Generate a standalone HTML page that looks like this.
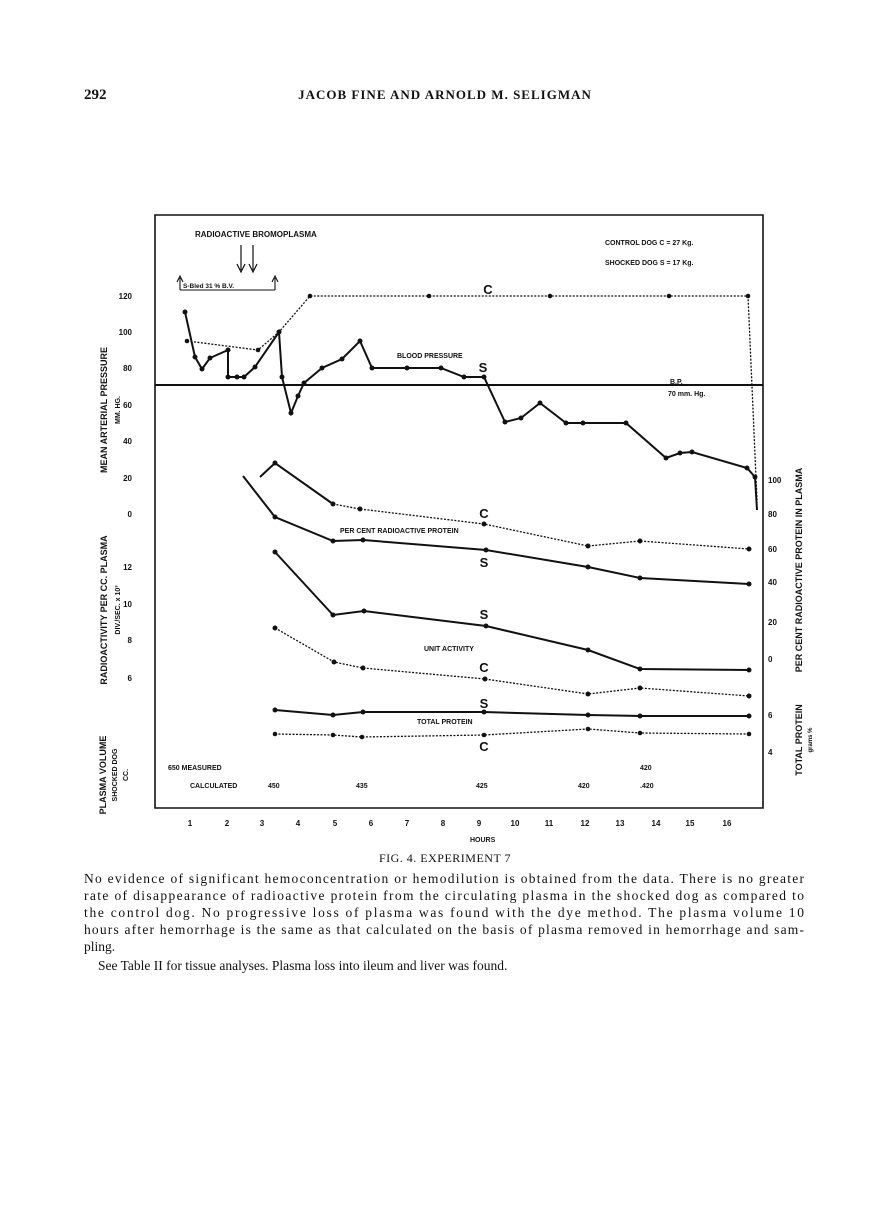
<!DOCTYPE html>
<html><head><meta charset="utf-8"><style>
body{margin:0;background:#fff;}
svg text{font-family:"Liberation Serif",serif;fill:#111;}
svg .s text{font-family:"Liberation Sans",sans-serif;font-weight:bold;}
</style></head><body>
<svg width="890" height="1200" viewBox="0 0 890 1200" xmlns="http://www.w3.org/2000/svg">
<rect width="890" height="1200" fill="#fff"/>
<text x="84" y="99" font-size="15" font-weight="bold">292</text>
<text x="445" y="99" font-size="13" font-weight="bold" text-anchor="middle" letter-spacing="1">JACOB FINE AND ARNOLD M. SELIGMAN</text>

<g stroke="#111" fill="none">
<path d="M155 215H763V808H155Z" stroke-width="1.6"/>
<path d="M155 385H763" stroke-width="2"/>
<polyline stroke-width="2" points="185,312 195,357 202,369 210,358 228,350 228,377 237,377 244,377 255,367 279,332 282,377 291,413 298,396 304,383 322,368 342,359 360,341 372,368 407,368 441,368 464,377 484,377 505,422 521,418 540,403 566,423 583,423 626,423 666,458 680,453 692,452 747,468 755,477 757,510"/>
<polyline stroke-width="1.3" stroke-dasharray="2,1.5" points="187,341 258,350 279,332 310,296 429,296 550,296 669,296 748,296 757,500"/>
<polyline stroke-width="2" points="260,477 275,463 333,504"/>
<polyline stroke-width="1.3" stroke-dasharray="2,1.5" points="333,504 360,509 484,524 588,546 640,541 749,549"/>
<polyline stroke-width="2" points="243,476 275,517 333,541 363,540 486,550 588,567 640,578 749,584"/>
<polyline stroke-width="2" points="275,552 333,615 364,611 486,626 588,650 640,669 749,670"/>
<polyline stroke-width="1.3" stroke-dasharray="2,1.5" points="275,628 334,662 363,668 485,679 588,694 640,688 749,696"/>
<polyline stroke-width="2" points="275,710 333,715 363,712 484,712 588,715 640,716 749,716"/>
<polyline stroke-width="1.3" stroke-dasharray="2,1.5" points="275,734 333,735 362,737 484,735 588,729 640,733 749,734"/>
<path d="M241 245V270M237 264L241 272L245 264M253 245V270M249 264L253 272L257 264" stroke-width="1.2"/>
<path d="M180 290H275M180 290V278M275 290V278M177 282L180 276L183 282M272 282L275 276L278 282" stroke-width="1.1"/>
</g>
<g fill="#111">
<circle cx="185" cy="312" r="2.5"/><circle cx="195" cy="357" r="2.5"/><circle cx="202" cy="369" r="2.5"/><circle cx="210" cy="358" r="2.5"/><circle cx="228" cy="350" r="2.5"/><circle cx="228" cy="377" r="2.5"/><circle cx="237" cy="377" r="2.5"/><circle cx="244" cy="377" r="2.5"/><circle cx="255" cy="367" r="2.5"/><circle cx="279" cy="332" r="2.5"/><circle cx="282" cy="377" r="2.5"/><circle cx="291" cy="413" r="2.5"/><circle cx="298" cy="396" r="2.5"/><circle cx="304" cy="383" r="2.5"/><circle cx="322" cy="368" r="2.5"/><circle cx="342" cy="359" r="2.5"/><circle cx="360" cy="341" r="2.5"/><circle cx="372" cy="368" r="2.5"/><circle cx="407" cy="368" r="2.5"/><circle cx="441" cy="368" r="2.5"/><circle cx="464" cy="377" r="2.5"/><circle cx="484" cy="377" r="2.5"/><circle cx="505" cy="422" r="2.5"/><circle cx="521" cy="418" r="2.5"/><circle cx="540" cy="403" r="2.5"/><circle cx="566" cy="423" r="2.5"/><circle cx="583" cy="423" r="2.5"/><circle cx="626" cy="423" r="2.5"/><circle cx="666" cy="458" r="2.5"/><circle cx="680" cy="453" r="2.5"/><circle cx="692" cy="452" r="2.5"/><circle cx="747" cy="468" r="2.5"/><circle cx="755" cy="477" r="2.5"/>
<circle cx="187" cy="341" r="2.3"/><circle cx="258" cy="350" r="2.3"/><circle cx="310" cy="296" r="2.3"/><circle cx="429" cy="296" r="2.3"/><circle cx="550" cy="296" r="2.3"/><circle cx="669" cy="296" r="2.3"/><circle cx="748" cy="296" r="2.3"/>
<circle cx="275" cy="463" r="2.5"/><circle cx="333" cy="504" r="2.5"/><circle cx="360" cy="509" r="2.5"/><circle cx="484" cy="524" r="2.5"/><circle cx="588" cy="546" r="2.5"/><circle cx="640" cy="541" r="2.5"/><circle cx="749" cy="549" r="2.5"/>
<circle cx="275" cy="517" r="2.5"/><circle cx="333" cy="541" r="2.5"/><circle cx="363" cy="540" r="2.5"/><circle cx="486" cy="550" r="2.5"/><circle cx="588" cy="567" r="2.5"/><circle cx="640" cy="578" r="2.5"/><circle cx="749" cy="584" r="2.5"/>
<circle cx="275" cy="552" r="2.5"/><circle cx="333" cy="615" r="2.5"/><circle cx="364" cy="611" r="2.5"/><circle cx="486" cy="626" r="2.5"/><circle cx="588" cy="650" r="2.5"/><circle cx="640" cy="669" r="2.5"/><circle cx="749" cy="670" r="2.5"/>
<circle cx="275" cy="628" r="2.5"/><circle cx="334" cy="662" r="2.5"/><circle cx="363" cy="668" r="2.5"/><circle cx="485" cy="679" r="2.5"/><circle cx="588" cy="694" r="2.5"/><circle cx="640" cy="688" r="2.5"/><circle cx="749" cy="696" r="2.5"/>
<circle cx="275" cy="710" r="2.5"/><circle cx="333" cy="715" r="2.5"/><circle cx="363" cy="712" r="2.5"/><circle cx="484" cy="712" r="2.5"/><circle cx="588" cy="715" r="2.5"/><circle cx="640" cy="716" r="2.5"/><circle cx="749" cy="716" r="2.5"/>
<circle cx="275" cy="734" r="2.3"/><circle cx="333" cy="735" r="2.3"/><circle cx="362" cy="737" r="2.3"/><circle cx="484" cy="735" r="2.3"/><circle cx="588" cy="729" r="2.3"/><circle cx="640" cy="733" r="2.3"/><circle cx="749" cy="734" r="2.3"/>
</g>

<g class="s" font-size="7">
<text x="195" y="237" font-size="8">RADIOACTIVE BROMOPLASMA</text>
<text x="183" y="288" font-size="6.5">S-Bled 31 % B.V.</text>
<text x="605" y="245">CONTROL DOG  C = 27 Kg.</text>
<text x="605" y="265">SHOCKED DOG  S = 17 Kg.</text>
<text x="397" y="358">BLOOD PRESSURE</text>
<text x="670" y="384">B.P.</text>
<text x="668" y="396">70 mm. Hg.</text>
<text x="340" y="533">PER CENT RADIOACTIVE PROTEIN</text>
<text x="424" y="651">UNIT ACTIVITY</text>
<text x="417" y="724">TOTAL PROTEIN</text>
<text x="168" y="770">650  MEASURED</text>
<text x="190" y="788">CALCULATED</text>
<text x="268" y="788">450</text><text x="356" y="788">435</text><text x="476" y="788">425</text><text x="578" y="788">420</text><text x="640" y="788">.420</text><text x="640" y="770">420</text>
<text x="470" y="842">HOURS</text>
</g>
<g class="s" font-size="13" text-anchor="middle">
<text x="488" y="294">C</text><text x="483" y="372">S</text>
<text x="484" y="518">C</text><text x="484" y="567">S</text><text x="484" y="619">S</text><text x="484" y="672">C</text><text x="484" y="708">S</text><text x="484" y="751">C</text>
</g>
<g class="s" text-anchor="end" font-size="8">
<text x="132" y="299">120</text><text x="132" y="335">100</text><text x="132" y="371">80</text><text x="132" y="408">60</text><text x="132" y="444">40</text><text x="132" y="481">20</text><text x="132" y="517">0</text>
<text x="132" y="570">12</text><text x="132" y="607">10</text><text x="132" y="643">8</text><text x="132" y="681">6</text>
</g>
<g class="s" font-size="8">
<text x="768" y="483">100</text><text x="768" y="517">80</text><text x="768" y="552">60</text><text x="768" y="585">40</text><text x="768" y="625">20</text><text x="768" y="662">0</text><text x="768" y="718">6</text><text x="768" y="755">4</text>
</g>
<g class="s" font-size="8" text-anchor="middle">
<text x="190" y="826">1</text><text x="227" y="826">2</text><text x="262" y="826">3</text><text x="298" y="826">4</text><text x="335" y="826">5</text><text x="371" y="826">6</text><text x="407" y="826">7</text><text x="443" y="826">8</text><text x="479" y="826">9</text><text x="515" y="826">10</text><text x="549" y="826">11</text><text x="585" y="826">12</text><text x="620" y="826">13</text><text x="656" y="826">14</text><text x="690" y="826">15</text><text x="727" y="826">16</text>
</g>
<g class="s" font-size="9" text-anchor="middle">
<text transform="translate(107,410) rotate(-90)">MEAN ARTERIAL PRESSURE</text>
<text transform="translate(120,410) rotate(-90)" font-size="7">MM. HG.</text>
<text transform="translate(107,610) rotate(-90)">RADIOACTIVITY PER CC. PLASMA</text>
<text transform="translate(120,610) rotate(-90)" font-size="7">DIV./SEC. x 10³</text>
<text transform="translate(106,775) rotate(-90)">PLASMA VOLUME</text>
<text transform="translate(117,775) rotate(-90)" font-size="7">SHOCKED DOG</text>
<text transform="translate(128,775) rotate(-90)" font-size="7">CC.</text>
<text transform="translate(802,570) rotate(-90)">PER CENT RADIOACTIVE PROTEIN IN PLASMA</text>
<text transform="translate(802,740) rotate(-90)">TOTAL PROTEIN</text>
<text transform="translate(812,740) rotate(-90)" font-size="6">grams %</text>
</g>

<text x="445" y="862" font-size="12" text-anchor="middle" letter-spacing="0.5">FIG. 4. EXPERIMENT 7</text>
<g font-size="13.5">
<text x="84" y="883" textLength="720" lengthAdjust="spacing">No evidence of significant hemoconcentration or hemodilution is obtained from the data.  There is no greater</text>
<text x="84" y="900" textLength="720" lengthAdjust="spacing">rate of disappearance of radioactive protein from the circulating plasma in the shocked dog as compared to</text>
<text x="84" y="917" textLength="720" lengthAdjust="spacing">the control dog.  No progressive loss of plasma was found with the dye method.  The plasma volume 10</text>
<text x="84" y="934" textLength="720" lengthAdjust="spacing">hours after hemorrhage is the same as that calculated on the basis of plasma removed in hemorrhage and sam-</text>
<text x="84" y="951">pling.</text>
<text x="98" y="970">See Table II for tissue analyses.  Plasma loss into ileum and liver was found.</text>
</g>
</svg>
</body></html>
